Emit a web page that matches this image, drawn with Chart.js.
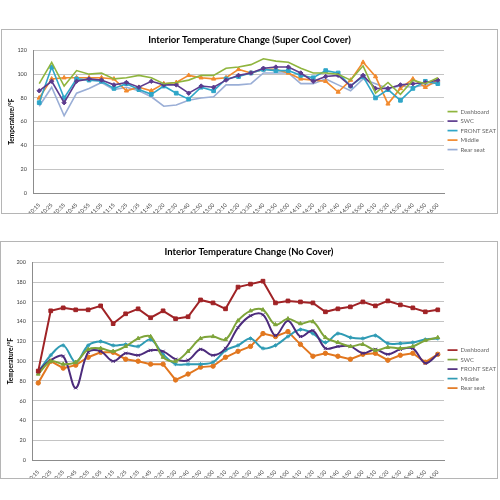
<!DOCTYPE html>
<html>
<head>
  <meta charset="utf-8" />
  <title>Interior Temperature Change</title>
  <script src="https://cdn.jsdelivr.net/npm/chart.js"></script>
  <style>
    body { margin: 0; background: #fff; font-family: Lato, Arial, sans-serif; }
    .box { position: absolute; border: 1px solid #b5b5b5; background: #fff; }
    #boxTop { left: 1px; top: 29px; width: 495px; height: 183px; }
    #boxBottom { left: 0px; top: 241px; width: 496px; height: 236px; }
  </style>
</head>
<body>
  <div class="box" id="boxTop"><canvas id="coolChart" width="495" height="183"></canvas></div>
  <div class="box" id="boxBottom"><canvas id="openChart" width="496" height="236"></canvas></div>

  <script>
  const times = ['10:15','10:25','10:35','10:45','10:55','11:05','11:15','11:25','11:35','11:45',
    '12:20','12:30','12:40','12:50','13:00','13:10','13:20','13:30','13:40','13:50','14:00',
    '14:10','14:20','14:30','14:40','14:50','15:00','15:10','15:20','15:30','15:40','15:50','16:00'];
  const seriesNames = ['Dashboard', 'SWC', 'FRONT SEAT', 'Middle', 'Rear seat'];

  // Super Cool Cover
  const coolDashboard = [92,110,90,103,100,101,96,97,99,97,92,93,95,99,99,105,106,108,113,111,110,105,101,101,100,95,107,84,93,83,95,92,97];
  const coolSwc       = [86,94,76,94,96,95,91,93,89,94,91,91,84,90,89,95,99,101,105,106,106,101,94,98,99,90,99,88,88,91,92,93,95];
  const coolFront     = [76,106,80,96,95,94,88,92,87,83,90,84,79,89,86,96,98,101,104,103,103,99,97,103,101,90,98,80,87,78,88,94,92];
  const coolMiddle    = [80,96,97,97,97,97,96,86,89,86,92,93,99,97,96,97,104,101,104,104,101,96,95,94,85,95,110,98,75,88,96,89,95];
  const coolRear      = [73,89,65,84,88,93,87,89,86,81,73,74,78,80,81,91,91,92,101,101,101,92,92,96,91,86,96,92,88,90,89,91,93];

  // No Cover
  const openDashboard = [90,151,154,152,152,156,138,148,153,144,151,143,145,162,159,153,175,178,181,159,161,160,159,150,153,155,160,156,161,157,154,150,152];
  const openSwc       = [87,100,97,99,112,113,110,115,123,125,104,100,110,123,125,122,141,151,152,137,143,138,140,124,119,115,117,111,114,113,115,121,124];
  const openFront     = [90,101,105,73,109,110,100,108,106,111,110,102,101,112,106,113,134,146,147,126,141,125,131,113,115,115,108,112,107,112,113,98,107];
  const openMiddle    = [89,106,116,99,116,120,116,117,115,122,107,97,97,97,99,111,116,123,113,116,125,132,128,119,128,124,123,126,118,118,119,122,123];
  const openRear      = [78,100,93,96,104,109,109,102,100,97,97,81,87,94,95,104,110,115,128,125,130,117,105,108,105,102,107,108,101,106,108,99,107];

  const tickColor = '#404040';

  function makeChart(id, title, yMax, xHeight, series) {
    new Chart(document.getElementById(id).getContext('2d'), {
      type: 'line',
      data: {
        labels: times,
        datasets: series.map(s => ({
          label: s.label,
          data: s.data,
          borderColor: s.color,
          backgroundColor: s.color,
          borderWidth: s.width || 1.6,
          pointStyle: s.point || false,
          pointRadius: s.radius || 0,
          pointBorderWidth: 1,
          tension: s.tension || 0,
          fill: false
        }))
      },
      options: {
        responsive: false,
        animation: false,
        // legend sits tight against the right border; left pad mirrors it so the title stays centred
        layout: { padding: { top: 0, right: -9, left: -9, bottom: 0 } },
        plugins: {
          title: {
            display: true, text: title, color: '#000',
            font: { family: 'Lato', size: 9.5, weight: 'bold' },
            padding: { top: 4, bottom: 5 }
          },
          legend: {
            position: 'right',
            title: { display: true, text: ' ', font: { size: 6 }, padding: { top: 6, bottom: 5 } },
            labels: {
              usePointStyle: true, pointStyleWidth: 10, boxHeight: 5,
              padding: 3.5, color: '#000',
              font: { family: 'Lato', size: 6 },
              generateLabels: chart => chart.data.datasets.map((d, i) => ({
                text: d.label, strokeStyle: d.borderColor, fillStyle: d.borderColor,
                lineWidth: 1.7, pointStyle: 'line', datasetIndex: i, hidden: false
              }))
            }
          },
          tooltip: { enabled: false }
        },
        scales: {
          x: {
            offset: true,
            grid: { display: false },
            border: { color: '#8c8c8c' },
            ticks: { color: tickColor, font: { family: 'Lato', size: 5.5 }, minRotation: 45, maxRotation: 45, autoSkip: false, padding: 1 },
            afterFit: s => { s.height = xHeight; }
          },
          y: {
            min: 0, max: yMax,
            grid: { color: '#c4c4c4', drawTicks: false },
            border: { color: '#8c8c8c' },
            ticks: { stepSize: 20, color: tickColor, font: { family: 'Lato', size: 5.5 }, padding: 6 },
            title: { display: true, text: 'Temperature/°F', color: '#000', font: { family: 'Lato', size: 6.5, weight: 'bold' }, padding: { top: 15, bottom: 2 } },
            afterFit: s => { s.width = 40; }
          }
        }
      }
    });
  }

  makeChart('coolChart', 'Interior Temperature Change (Super Cool Cover)', 120, 20, [
    { label: seriesNames[0], data: coolDashboard, color: '#8fb53e' },
    { label: seriesNames[1], data: coolSwc, color: '#5c3b8e', point: 'rectRot', radius: 2.2 },
    { label: seriesNames[2], data: coolFront, color: '#2fa6c8', point: 'rect', radius: 2.6 },
    { label: seriesNames[3], data: coolMiddle, color: '#f28a2e', point: 'triangle', radius: 2.4 },
    { label: seriesNames[4], data: coolRear, color: '#9aaed6' }
  ]);

  makeChart('openChart', 'Interior Temperature Change (No Cover)', 200, 18, [
    { label: seriesNames[0], data: openDashboard, color: '#a02326', point: 'rect', radius: 2.6, width: 2 },
    { label: seriesNames[1], data: openSwc, color: '#7ea43a', point: 'triangle', radius: 2.2, width: 2, tension: 0.35 },
    { label: seriesNames[2], data: openFront, color: '#4c2b7c', point: 'crossRot', radius: 2.2, width: 2, tension: 0.35 },
    { label: seriesNames[3], data: openMiddle, color: '#2f9bb4', point: 'star', radius: 2, width: 2, tension: 0.35 },
    { label: seriesNames[4], data: openRear, color: '#e2771f', point: 'circle', radius: 2.2, width: 2 }
  ]);
  </script>
</body>
</html>
